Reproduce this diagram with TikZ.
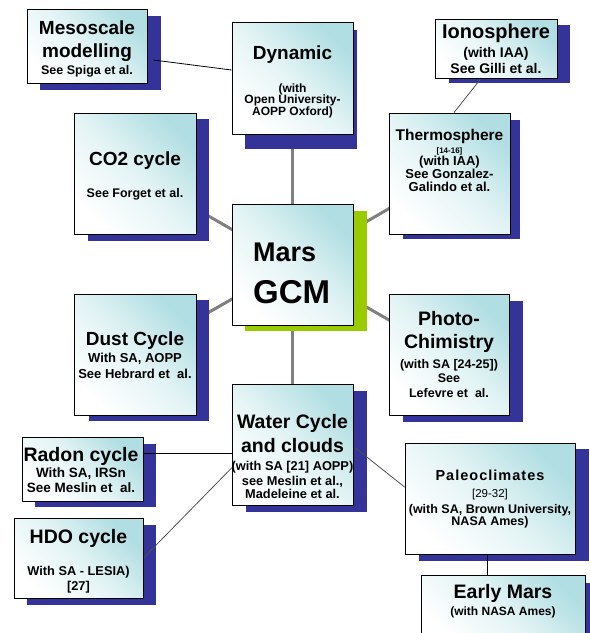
\documentclass[tikz,border=0pt]{standalone}
\usepackage{fontspec}
\setmainfont{Liberation Sans}
\newfontfamily\spacedfont[LetterSpace=7]{Liberation Sans}
\usetikzlibrary{calc}
\definecolor{boxteal}{RGB}{176,222,226}
\definecolor{shblue}{RGB}{51,51,153}
\definecolor{shgreen}{RGB}{153,204,0}
\definecolor{linkgray}{RGB}{128,128,128}
\definecolor{thingray}{RGB}{80,80,80}
\pgfdeclarelayer{bg}\pgfdeclarelayer{mid}\pgfsetlayers{bg,mid,main}
\newcommand\fs[1]{\fontsize{#1}{#1}\selectfont\bfseries}
\newcommand\fr[1]{\fontsize{#1}{#1}\selectfont}
\newcommand\mkbox[5]{\node[gbox, minimum width={#4-#2}, minimum height={#5-#3}] (#1) at ({(#2+#4)/2},{(#3+#5)/2}) {};}
\newcommand\mkshadow[5]{\fill[#1] (#2,#3) rectangle (#4,#5);}
\newcommand\txl[5]{\node[tline, font=#4] (#1) at (#2,#3) {#5};}
\begin{document}
\begin{tikzpicture}[x=1pt,y=-1pt,
  gbox/.style={draw=black, line width=0.9pt, inner sep=0pt,
    top color=boxteal, bottom color=white, middle color=boxteal!35!white, shading angle=-45},
  tline/.style={anchor=base, inner sep=0pt, text=black},
  thicklink/.style={draw=linkgray, line width=3pt},
  thinblack/.style={draw=black, line width=0.8pt},
  thingrayl/.style={draw=thingray, line width=0.8pt}]
\useasboundingbox (0,0) rectangle (590,633);

% boxes
\mkbox{meso}{27}{9}{147}{83}
\mkbox{dyn}{232}{22}{353}{134}
\mkbox{iono}{435}{19}{557}{78}
\mkbox{thermo}{389}{113}{510}{234}
\mkbox{co2}{74}{113}{196}{234}
\mkbox{gcm}{232}{204}{353}{325}
\mkbox{dust}{74}{294}{196}{415}
\mkbox{photo}{389}{294}{509}{415}
\mkbox{water}{232}{384}{353}{505}
\mkbox{radon}{22}{437}{143}{501}
\mkbox{hdo}{14}{518}{143}{598}
\mkbox{paleo}{405}{443}{575}{554}
\mkbox{early}{421}{575}{585}{645}

\begin{pgfonlayer}{bg}
  \draw[thicklink] (gcm.center) -- (dyn.center);
  \draw[thicklink] (gcm.center) -- (co2.center);
  \draw[thicklink] (gcm.center) -- (thermo.center);
  \draw[thicklink] (gcm.center) -- (dust.center);
  \draw[thicklink] (gcm.center) -- (photo.center);
  \draw[thicklink] (gcm.center) -- (water.center);
  \mkshadow{shblue}{40}{16}{161}{90}
  \mkshadow{shblue}{245}{30}{357}{149}
  \mkshadow{shblue}{449}{25}{570}{83}
  \mkshadow{shblue}{403}{120}{520}{239}
  \mkshadow{shblue}{88}{119}{209}{241}
  \mkshadow{shgreen}{245}{211}{367}{331}
  \mkshadow{shblue}{89}{300}{209}{421}
  \mkshadow{shblue}{403}{301}{523}{422}
  \mkshadow{shblue}{246}{391}{367}{512}
  \mkshadow{shblue}{35}{444}{156}{507}
  \mkshadow{shblue}{27}{525}{156}{605}
  \mkshadow{shblue}{419}{449}{589}{561}
  \mkshadow{shblue}{434}{583}{597}{650}
\end{pgfonlayer}

\begin{pgfonlayer}{mid}
  \draw[thinblack] ([xshift=6pt,yshift=-14pt]meso.east) -- ([yshift=8pt]dyn.west);
  \draw[thingrayl] ([xshift=-15pt]iono.south) -- ([xshift=4.5pt]thermo.north);
  \draw[thinblack] ([yshift=16pt]radon.east) -- ([yshift=-8.5pt]water.west);
  \draw[thingrayl] (hdo.east) -- ([xshift=1pt,yshift=-22.5pt]water.west);
  \draw[thingrayl] ([xshift=2pt,yshift=-3.5pt]water.east) -- ([yshift=11.5pt]paleo.west);
  \draw[thinblack] ([xshift=-3pt]paleo.south) -- ([xshift=-3pt]paleo.south |- early.north);
\end{pgfonlayer}

% texts
\txl{meso1}{87}{34}{\fs{19}}{Mesoscale}
\txl{meso2}{87}{57}{\fs{19}}{modelling}
\txl{meso3}{87}{74}{\fs{12.5}}{See Spiga et al.}

\txl{dyn1}{292.5}{59}{\fs{19}}{Dynamic}
\txl{dyn2}{292.5}{92}{\fs{12}}{(with}
\txl{dyn3}{292.5}{103.5}{\fs{12}}{Open University-}
\txl{dyn4}{292.5}{115}{\fs{12}}{AOPP Oxford)}

\txl{iono1}{496}{38}{\fs{20}}{Ionosphere}
\txl{iono2}{496}{57}{\fs{14}}{(with IAA)}
\txl{iono3}{496}{73}{\fs{14}}{See Gilli et al.}

\txl{thermo1}{449.5}{140}{\fs{15.5}}{Thermosphere}
\txl{thermo2}{449.5}{153}{\fs{8}}{[14-16]}
\txl{thermo3}{449.5}{165.5}{\fs{13}}{(with IAA)}
\txl{thermo4}{449.5}{178.5}{\fs{13}}{See Gonzalez-}
\txl{thermo5}{449.5}{191.5}{\fs{13}}{Galindo et al.}

\txl{co21}{135}{165}{\fs{19}}{CO2 cycle}
\txl{co22}{135}{197}{\fs{12.5}}{See Forget et al.}

\node[tline, anchor=base west, font=\fs{27}] (gcm1) at (253,261) {Mars};
\node[tline, anchor=base west, font=\fs{33}] (gcm2) at (253,303) {GCM};

\txl{dust1}{135}{345}{\fs{19}}{Dust Cycle}
\txl{dust2}{135}{362}{\fs{13}}{With SA, AOPP}
\txl{dust3}{135}{378}{\fs{13}}{See Hebrard et\ \ al.}

\txl{photo1}{449}{325}{\fs{19.5}}{Photo-}
\txl{photo2}{449}{348}{\fs{19.5}}{Chimistry}
\txl{photo3}{449}{368}{\fs{12.5}}{(with SA [24-25])}
\txl{photo4}{449}{382}{\fs{12.5}}{See}
\txl{photo5}{449}{397}{\fs{12.5}}{Lefevre et\ \ al.}

\txl{water1}{292.5}{428}{\fs{19.5}}{Water Cycle}
\txl{water2}{292.5}{452}{\fs{19.5}}{and clouds}
\txl{water3}{292.5}{470}{\fs{12.8}}{(with SA [21] AOPP)}
\txl{water4}{292.5}{485}{\fs{12.8}}{see Meslin et al.,}
\txl{water5}{292.5}{498}{\fs{12.8}}{Madeleine et al.}

\txl{radon1}{81}{461}{\fs{19.5}}{Radon cycle}
\txl{radon2}{81}{477}{\fs{13.5}}{With SA, IRSn}
\txl{radon3}{81}{492}{\fs{13.5}}{See Meslin et\ \ al.}

\txl{hdo1}{78.5}{543}{\fs{19.5}}{HDO cycle}
\txl{hdo2}{78.5}{575}{\fs{12.8}}{With SA - LESIA)}
\txl{hdo3}{78.5}{590}{\fs{12.8}}{[27]}

\txl{paleo1}{490}{480}{\spacedfont\fs{14.5}}{Paleoclimates}
\txl{paleo2}{490}{497}{\fr{11.5}}{[29-32]}
\txl{paleo3}{490}{513}{\fs{12.5}}{(with SA, Brown University,}
\txl{paleo4}{490}{525}{\fs{12.5}}{NASA Ames)}

\txl{early1}{503}{598}{\fs{19.5}}{Early Mars}
\txl{early2}{503}{615}{\fs{12}}{(with NASA Ames)}
\end{tikzpicture}
\end{document}
